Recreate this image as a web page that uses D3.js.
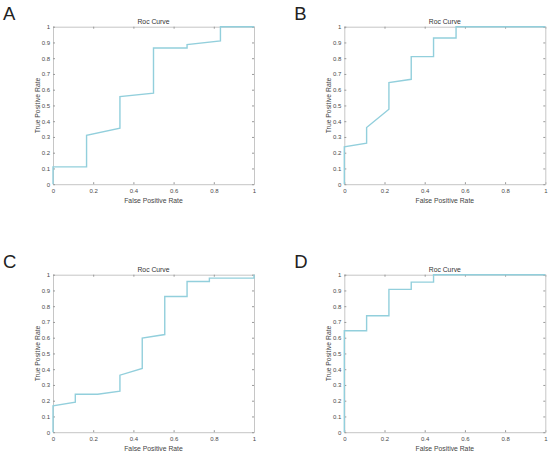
<!DOCTYPE html>
<html lang="en">
<head>
<meta charset="UTF-8">
  <title>ROC curves - D3</title>
  <script src="https://d3js.org/d3.v7.min.js"></script>
  <style>
    body { margin: 0; background: #fff; }
    svg { font-family: "Liberation Sans", Arial, sans-serif; background: #fff; }
    .tick text { fill: #4a4a4a; font-size: 6px; }
  </style>
</head>
<body>
<div id="chart"></div>
<script>
  // ROC points (false positive rate, true positive rate)
  const fprA = [0, 0, 0.167, 0.167, 0.333, 0.333, 0.5, 0.5, 0.667, 0.667, 0.833, 0.833, 1];
  const tprA = [0, 0.11, 0.11, 0.31, 0.355, 0.556, 0.578, 0.865, 0.865, 0.886, 0.91, 1, 1];

  const fprB = [0, 0, 0.111, 0.111, 0.222, 0.222, 0.333, 0.333, 0.444, 0.444, 0.556, 0.556, 1];
  const tprB = [0, 0.237, 0.26, 0.36, 0.476, 0.645, 0.666, 0.81, 0.81, 0.928, 0.928, 1, 1];

  const fprC = [0, 0, 0.111, 0.111, 0.222, 0.333, 0.333, 0.444, 0.444, 0.556, 0.556, 0.667, 0.667, 0.778, 0.778, 1, 1];
  const tprC = [0, 0.167, 0.19, 0.241, 0.241, 0.26, 0.362, 0.405, 0.597, 0.62, 0.862, 0.862, 0.957, 0.957, 0.978, 0.978, 1];

  const fprD = [0, 0, 0.111, 0.111, 0.222, 0.222, 0.333, 0.333, 0.444, 0.444, 1];
  const tprD = [0, 0.644, 0.644, 0.739, 0.739, 0.907, 0.907, 0.953, 0.953, 1, 1];

  const panelLabels = ["A", "B", "C", "D"];
  const xTicks = [0, 0.2, 0.4, 0.6, 0.8, 1];
  const yTicks = [0, 0.1, 0.2, 0.3, 0.4, 0.5, 0.6, 0.7, 0.8, 0.9, 1];

  const panels = [
    { label: panelLabels[0], fpr: fprA, tpr: tprA, left: 53, top: 26.7 },
    { label: panelLabels[1], fpr: fprB, tpr: tprB, left: 344.3, top: 26.7 },
    { label: panelLabels[2], fpr: fprC, tpr: tprC, left: 53, top: 274.7 },
    { label: panelLabels[3], fpr: fprD, tpr: tprD, left: 344.3, top: 274.7 }
  ];

  const W = 201, H = 157.5;
  const boxColor = "#c6c6c6";
  const lineColor = "#92cfdc";

  const svg = d3.select("#chart").append("svg")
    .attr("width", 550)
    .attr("height", 457);

  panels.forEach(p => {
    const x = d3.scaleLinear().domain([0, 1]).range([0, W]);
    const y = d3.scaleLinear().domain([0, 1]).range([H, 0]);

    const g = svg.append("g").attr("transform", `translate(${p.left},${p.top})`);

    // panel letter
    svg.append("text")
      .attr("x", p.left - 50)
      .attr("y", p.top - 6.5)
      .attr("font-size", 18.5)
      .attr("fill", "#222")
      .text(p.label);

    // axes, ticks pointing inward like matlab
    const styleAxis = sel => {
      sel.select(".domain").attr("stroke", boxColor);
      sel.selectAll(".tick line").attr("stroke", "#999");
    };
    g.append("g").attr("transform", `translate(0,${H})`)
      .call(d3.axisBottom(x).tickValues(xTicks).tickSizeInner(-2).tickSizeOuter(0).tickPadding(5)
        .tickFormat(d3.format("~g")))
      .call(styleAxis);
    g.append("g")
      .call(d3.axisTop(x).tickValues(xTicks).tickSizeInner(-2).tickSizeOuter(0).tickFormat(""))
      .call(styleAxis);
    g.append("g")
      .call(d3.axisLeft(y).tickValues(yTicks).tickSizeInner(-2).tickSizeOuter(0).tickPadding(3)
        .tickFormat(d3.format("~g")))
      .call(styleAxis);
    g.append("g").attr("transform", `translate(${W},0)`)
      .call(d3.axisRight(y).tickValues(yTicks).tickSizeInner(-2).tickSizeOuter(0).tickFormat(""))
      .call(styleAxis);

    // curve
    const pts = p.fpr.map((v, i) => [v, p.tpr[i]]);
    g.append("path")
      .datum(pts)
      .attr("fill", "none")
      .attr("stroke", lineColor)
      .attr("stroke-width", 1.4)
      .attr("d", d3.line().x(d => x(d[0])).y(d => y(d[1])));

    g.append("text")
      .attr("x", W / 2)
      .attr("y", -2.5)
      .attr("text-anchor", "middle")
      .attr("font-size", 6.8)
      .attr("fill", "#333")
      .text("Roc Curve");

    g.append("text")
      .attr("x", W / 2)
      .attr("y", H + 19)
      .attr("text-anchor", "middle")
      .attr("font-size", 6.8)
      .attr("fill", "#444")
      .text("False Positive Rate");

    g.append("text")
      .attr("transform", "rotate(-90)")
      .attr("x", -H / 2)
      .attr("y", -13)
      .attr("text-anchor", "middle")
      .attr("font-size", 6.8)
      .attr("fill", "#444")
      .text("True Positive Rate");
  });
</script>
</body>
</html>
